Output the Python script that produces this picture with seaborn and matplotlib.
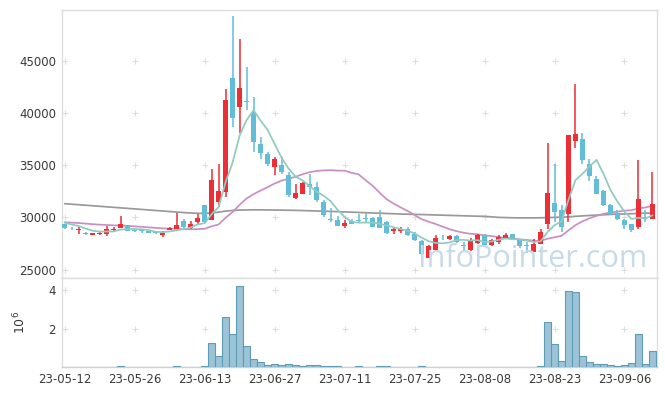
import matplotlib
matplotlib.use('Agg')
import matplotlib.pyplot as plt
import seaborn as sns
import numpy as np
import pandas as pd

sns.set_theme(style='white')

# daily OHLC (KRW), 85 trading days from 23-05-12
opens = [29350, 28900, 28750, 28550, 28350, 28400, 28400, 28750, 29000, 29230,
         28800, 28750, 28700, 28600, 28300, 28800, 28900, 29650, 29000, 29520,
         31150, 29780, 31470, 32430, 43310, 40590, 41100, 40100, 36980, 36100,
         34830, 35000, 34030, 31890, 32270, 33170, 32940, 31470, 29800, 29710,
         29170, 29620, 29720, 29870, 29970, 30030, 29550, 28660, 28690, 28850,
         28430, 27730, 26130, 26900, 28150, 27950, 28180, 27360, 26900, 27540,
         28270, 27380, 27600, 27960, 28370, 27790, 27380, 26670, 27480, 29330,
         31410, 30670, 30350, 37330, 37490, 35060, 33710, 32530, 31150, 30410,
         29710, 29330, 29070, 30000, 29870]
highs = [29400, 29050, 29050, 28600, 28550, 28650, 29150, 29100, 30150, 29250,
         28900, 28900, 28750, 28650, 28650, 29050, 30450, 29870, 29650, 30350,
         31200, 34670, 35150, 42260, 49230, 47060, 44400, 41490, 37700, 36250,
         35790, 35790, 34350, 33230, 33400, 34190, 33400, 31630, 30920, 30100,
         29710, 29870, 30350, 30410, 30000, 30670, 29620, 29010, 29070, 29070,
         28590, 27790, 27380, 28270, 28270, 28270, 28270, 27630, 28000, 28400,
         28400, 27950, 28300, 28500, 28430, 27860, 27630, 27950, 28910, 37070,
         35060, 31150, 37900, 42740, 38090, 35540, 33940, 32660, 31310, 30670,
         29870, 29390, 35470, 30670, 34350]
lows = [28900, 28750, 28450, 28350, 28300, 28300, 28250, 28650, 29000, 28700,
        28600, 28550, 28500, 28450, 28100, 28750, 28900, 28900, 28900, 29400,
        29500, 29710, 31000, 31950, 38670, 38030, 40250, 36270, 35630, 34950,
        34030, 34190, 31950, 31800, 32200, 32110, 31470, 30030, 29550, 29140,
        29000, 29330, 29450, 29550, 29070, 28980, 28430, 28430, 28530, 28210,
        27730, 25940, 26130, 26800, 27790, 27790, 27540, 26830, 26800, 27500,
        27250, 27300, 27500, 27900, 27890, 27090, 26580, 26670, 27410, 28910,
        29550, 28590, 29550, 36650, 35090, 33490, 32210, 31060, 30190, 29710,
        28910, 28590, 28910, 29550, 29870]
closes = [28950, 28850, 28900, 28400, 28500, 28550, 28900, 28900, 29330, 28700,
          28650, 28700, 28550, 28500, 28550, 28950, 29250, 29080, 29360, 29970,
          29550, 33550, 32500, 41230, 39470, 42350, 41000, 37230, 36170, 35150,
          35570, 34350, 32110, 32330, 33290, 32910, 31630, 30190, 29760, 29140,
          29460, 29400, 29680, 29850, 29070, 29010, 28490, 28880, 28910, 28270,
          27790, 26450, 27220, 28050, 28080, 28180, 27630, 27300, 27730, 28270,
          27310, 27860, 28120, 28340, 27890, 27250, 27300, 27480, 28590, 32370,
          30510, 29070, 37870, 37970, 35470, 33940, 32270, 31150, 30290, 29810,
          29230, 28750, 31730, 29950, 31310]
# closes before the window, used to seed the moving averages
prior_closes = [29700, 29650, 29550, 29600, 29450, 29500, 29650, 29700, 29500, 29400,
                29550, 29600, 29500, 29450, 29550, 29700, 29650, 29600, 29550]
# long moving average
ma_long = [31310, 31260, 31210, 31160, 31110, 31060, 31010, 30960, 30910, 30860,
           30810, 30760, 30710, 30660, 30610, 30560, 30510, 30460, 30420, 30390,
           30380, 30420, 30500, 30600, 30660, 30700, 30710, 30720, 30720, 30710,
           30700, 30690, 30680, 30670, 30650, 30630, 30610, 30590, 30570, 30550,
           30520, 30500, 30470, 30450, 30420, 30400, 30370, 30350, 30320, 30300,
           30290, 30270, 30250, 30230, 30210, 30190, 30170, 30150, 30130, 30110,
           30100, 30050, 30000, 29980, 29960, 29950, 29950, 29950, 29960, 29980,
           30000, 30020, 30050, 30100, 30140, 30180, 30220, 30250, 30280, 30310,
           30330, 30350, 30380, 30400, 30420]
# volume in millions of shares
volume = [0.01, 0.01, 0.01, 0.01, 0.01, 0.01, 0.01, 0.01, 0.06, 0.01,
          0.01, 0.01, 0.01, 0.01, 0.01, 0.01, 0.06, 0.01, 0.01, 0.01,
          0.06, 1.27, 0.62, 2.62, 1.76, 4.24, 1.13, 0.46, 0.29, 0.13,
          0.19, 0.13, 0.19, 0.13, 0.08, 0.13, 0.13, 0.08, 0.08, 0.08,
          0.04, 0.02, 0.08, 0.02, 0.02, 0.08, 0.08, 0.01, 0.01, 0.01,
          0.01, 0.08, 0.01, 0.01, 0.01, 0.01, 0.01, 0.01, 0.01, 0.01,
          0.01, 0.01, 0.01, 0.01, 0.01, 0.01, 0.01, 0.01, 0.06, 2.36,
          1.22, 0.36, 3.98, 3.92, 0.62, 0.31, 0.20, 0.19, 0.13, 0.08,
          0.13, 0.24, 1.76, 0.20, 0.88]
tick_labels = ['23-05-12', '23-05-26', '23-06-13', '23-06-27', '23-07-11',
               '23-07-25', '23-08-08', '23-08-23', '23-09-06']

df = pd.DataFrame({'open': opens, 'high': highs, 'low': lows,
                   'close': closes, 'volume': volume, 'ma_long': ma_long})
df['day'] = np.arange(len(df))
all_close = pd.Series(prior_closes + closes)
df['ma5'] = all_close.rolling(5).mean().iloc[len(prior_closes):].values
df['ma20'] = all_close.rolling(20).mean().iloc[len(prior_closes):].values

UP, DOWN = '#ec2e36', '#62bdd8'
GRID = '#dedede'
TXT = '#3a3a3a'

fig = plt.figure(figsize=(6.65, 3.96), dpi=100)
ax = fig.add_axes([0.0925, 0.298, 0.8955, 0.677])
axv = fig.add_axes([0.0925, 0.072, 0.8955, 0.226], sharex=ax)

# watermark
fig.text(0.973, 0.326, 'InfoPointer.com', ha='right', va='baseline',
         fontsize=22, family='Open Sans', color='#c6dbe7', zorder=0)

colors = np.where(df['close'] >= df['open'], UP, DOWN)
ax.vlines(df['day'], df['low'], df['high'], colors=colors, lw=1.1, zorder=3)
body = (df['close'] - df['open']).abs().clip(lower=70)
ax.bar(df['day'], body, bottom=df[['open', 'close']].min(axis=1), width=0.72,
       color=colors, linewidth=0, zorder=4)

sns.lineplot(data=df, x='day', y='ma_long', ax=ax, color='#999999', lw=1.25, zorder=2)
sns.lineplot(data=df, x='day', y='ma20', ax=ax, color='#c98fc3', lw=1.25, zorder=2)
sns.lineplot(data=df, x='day', y='ma5', ax=ax, color='#8fcbc1', lw=1.25, zorder=5)

ax.set_xlim(-0.45, 84.65)
ax.set_ylim(24200, 49850)
ax.set_yticks([25000, 30000, 35000, 40000, 45000])
ax.set_xlabel('')
ax.set_ylabel('')
ax.tick_params(labelbottom=False, length=0, labelsize=8.5, labelcolor=TXT, pad=4)

axv.bar(df['day'], df['volume'], width=1.0, color='#9cc3d6', edgecolor='#5f9cb8',
        linewidth=0.8, zorder=3)
axv.set_ylim(0, 4.64)
axv.set_yticks([2, 4])
axv.set_xticks(np.arange(0, 85, 10))
axv.set_xticklabels(tick_labels)
axv.tick_params(length=0, labelsize=8.5, labelcolor=TXT, pad=4)
axv.set_ylabel(r'$10^6$', fontsize=9, color=TXT)
axv.yaxis.set_label_coords(-0.055, 0.5)

# grid drawn as small crosses at tick intersections
for a, yt in ((ax, ax.get_yticks()), (axv, [2, 4])):
    gx, gy = np.meshgrid(np.arange(0, 85, 10), yt)
    a.scatter(gx.ravel(), gy.ravel(), marker='+', s=16, color=GRID, lw=0.8, zorder=1)
    for s in a.spines.values():
        s.set_color('#dedede')
        s.set_linewidth(1.0)
axv.spines['bottom'].set_color('#cfcfcf')

fig.savefig('out.png', dpi=100)
